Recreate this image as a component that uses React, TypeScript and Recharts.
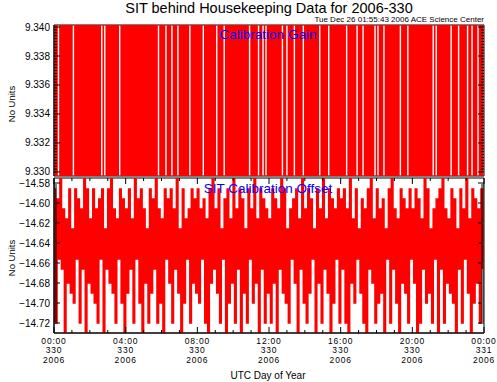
import React from "react"
import { LineChart, Line, XAxis, YAxis, ReferenceArea } from "recharts"

// SIT calibration gain, one sample every 5 minutes (1 = high state, 0 = low state)
const gainBlocks = [
  "101101010101001010101010101010100110101010100101",
  "010101010101010101010110101101001011010101001010",
  "101001010101001010010101010101010100101011011001",
  "010101010010010100101011010101010110101001010101",
  "010110101011010010101011001011010101010110101101",
  "010101010101011001010101011010110101001001011010",
]
const gainHigh = 9.3405
const gainLow = 9.3295

// SIT calibration offset, one sample every 5 minutes, coded by level
const offsetBlocks = [
  "BHCEALDIJFBGKMBECHDLAIBFJGBMDHCEBIKLBFAGDHJEBMCI",
  "DGBLJHAECMBIDFKHBGCLAHDMJIBECFBHDLAGKIBMJEDHBFCG",
  "BMDECHJIBFALDGBHKECIBMJFAHDLBICGKHBEDMAFJIBLCHDG",
  "JHBFCIDLAGBMKHDECFBIJLAMDHBGCEKIBFDHALJGBICMDEBH",
  "CLBHDIAFJMBEKGCHDIBLAFJHBMDGCIKEBHALDMJIBFCGDHBE",
  "DFBICHJLAMBGKHDECIBLAHDFJGBMCIKLBHDEAGJIBMCFDHBL",
]
const offsetLevels: Record<string, number> = {
  A: -14.574,
  B: -14.586,
  C: -14.596,
  D: -14.606,
  J: -14.616,
  K: -14.626,
  E: -14.656,
  L: -14.666,
  F: -14.68,
  G: -14.69,
  M: -14.7,
  H: -14.72,
  I: -14.732,
}

const sampleMinutes = 5

const gainTicks = [9.33, 9.332, 9.334, 9.336, 9.338, 9.34]
const offsetTicks = [-14.72, -14.7, -14.68, -14.66, -14.64, -14.62, -14.6, -14.58]

const majorTimes = [0, 240, 480, 720, 960, 1200, 1440]
const timeLabels = ["00:00", "04:00", "08:00", "12:00", "16:00", "20:00", "00:00"]
const dayLabels = ["330", "330", "330", "330", "330", "330", "331"]
const yearLabels = ["2006", "2006", "2006", "2006", "2006", "2006", "2006"]

const gainData = gainBlocks
  .join("")
  .split("")
  .map((c, i) => ({ t: i * sampleMinutes, gain: c === "1" ? gainHigh : gainLow }))

const offsetData = offsetBlocks
  .join("")
  .split("")
  .map((c, i) => ({ t: i * sampleMinutes, offset: offsetLevels[c] }))

const hourTicks: number[] = []
for (let h = 0; h <= 24; h++) hourTicks.push(h * 60)

function withMinors(majors: number[], n: number) {
  const out: number[] = []
  for (let i = 0; i < majors.length - 1; i++) {
    const step = (majors[i + 1] - majors[i]) / n
    for (let k = 0; k < n; k++) out.push(majors[i] + step * k)
  }
  out.push(majors[majors.length - 1])
  return out
}

const gainAllTicks = withMinors(gainTicks, 10)
const offsetAllTicks = withMinors(offsetTicks, 10)

const FONT = "'Liberation Sans', Arial, sans-serif"
const PLOT_W = 430
const TOP_H = 151
const BOT_H = 155
const gainDomain = [9.32972, 9.34014]
const offsetDomain = [-14.73, -14.575]

function ValueTick(props: any) {
  const { x, y, payload, majors, digits } = props
  const v = payload.value
  const isMajor = majors.some((m: number) => Math.abs(m - v) < 1e-7)
  const len = isMajor ? 6 : 3
  const label = v < 0 ? "\u2212" + Math.abs(v).toFixed(digits) : v.toFixed(digits)
  return (
    <g>
      <line x1={x} x2={x + len} y1={y} y2={y} stroke="#000" />
      <line x1={x + PLOT_W - len} x2={x + PLOT_W} y1={y} y2={y} stroke="#000" />
      {isMajor && (
        <text x={x - 4} y={y} dy="0.35em" textAnchor="end" fontSize={10} fill="#000" fontFamily={FONT}>
          {label}
        </text>
      )}
    </g>
  )
}

function TimeTick(props: any) {
  const { x, y, payload, plotH, showLabels } = props
  const k = majorTimes.indexOf(payload.value)
  const len = k >= 0 ? 6 : 3
  const rows = k >= 0 ? [timeLabels[k], dayLabels[k], yearLabels[k]] : []
  return (
    <g>
      <line x1={x} x2={x} y1={y} y2={y - len} stroke="#000" />
      <line x1={x} x2={x} y1={y - plotH} y2={y - plotH + len} stroke="#000" />
      {showLabels &&
        rows.map((s, r) => (
          <text
            key={r}
            x={x}
            y={y + 10.5 + r * 9.5}
            textAnchor="middle"
            fontSize={8.5}
            letterSpacing={0.8}
            fill="#000"
            fontFamily={FONT}
          >
            {s}
          </text>
        ))}
    </g>
  )
}

export default function App() {
  return (
    <div style={{ position: "absolute", left: 0, top: 0, width: 497, height: 382, background: "#fff", fontFamily: FONT }}>
      <div style={{ position: "absolute", left: 0, top: 0 }}>
        <LineChart width={497} height={177} data={gainData} margin={{ top: 25, right: 13, bottom: 1, left: 10 }}>
          <XAxis
            dataKey="t"
            type="number"
            domain={[0, 1440]}
            ticks={hourTicks}
            interval={0}
            height={0}
            tickSize={0}
            tickMargin={0}
            tickLine={false}
            axisLine={{ stroke: "#000" }}
            tick={(p: any) => <TimeTick {...p} plotH={TOP_H} showLabels={false} />}
          />
          <YAxis
            type="number"
            domain={gainDomain}
            allowDataOverflow
            ticks={gainAllTicks}
            interval={0}
            width={44}
            tickSize={0}
            tickMargin={0}
            tickLine={false}
            axisLine={{ stroke: "#000" }}
            tick={(p: any) => <ValueTick {...p} majors={gainTicks} digits={3} />}
          />
          <Line
            dataKey="gain"
            type="stepAfter"
            stroke="#ff0000"
            strokeWidth={1.6}
            dot={false}
            isAnimationActive={false}
          />
          <ReferenceArea x1={0} x2={1440} y1={gainDomain[0]} y2={gainDomain[1]} fill="none" stroke="#000" strokeOpacity={1} />
        </LineChart>
      </div>
      <div style={{ position: "absolute", left: 0, top: 177 }}>
        <LineChart width={497} height={205} data={offsetData} margin={{ top: 1, right: 13, bottom: 0, left: 10 }}>
          <XAxis
            dataKey="t"
            type="number"
            domain={[0, 1440]}
            ticks={hourTicks}
            interval={0}
            height={49}
            tickSize={0}
            tickMargin={0}
            tickLine={false}
            axisLine={{ stroke: "#000" }}
            tick={(p: any) => <TimeTick {...p} plotH={BOT_H} showLabels />}
          />
          <YAxis
            type="number"
            domain={offsetDomain}
            allowDataOverflow
            ticks={offsetAllTicks}
            interval={0}
            width={44}
            tickSize={0}
            tickMargin={0}
            tickLine={false}
            axisLine={{ stroke: "#000" }}
            tick={(p: any) => <ValueTick {...p} majors={offsetTicks} digits={2} />}
          />
          <Line
            dataKey="offset"
            type="stepAfter"
            stroke="#ff0000"
            strokeWidth={1.6}
            dot={false}
            isAnimationActive={false}
          />
          <ReferenceArea x1={0} x2={1440} y1={offsetDomain[0]} y2={offsetDomain[1]} fill="none" stroke="#000" strokeOpacity={1} />
        </LineChart>
      </div>
      <svg width={497} height={382} style={{ position: "absolute", left: 0, top: 0, pointerEvents: "none" }}>
        <text x={269} y={13} textAnchor="middle" fontSize={14.5} fontFamily={FONT} fill="#000">
          SIT behind Housekeeping Data for 2006-330
        </text>
        <text x={484} y={22} textAnchor="end" fontSize={8} fontFamily={FONT} fill="#000">
          Tue Dec 26 01:55:43 2006 ACE Science Center
        </text>
        <text x={268} y={39} textAnchor="middle" fontSize={13.5} fontFamily={FONT} fill="#0000ff">
          Calibration Gain
        </text>
        <text x={268} y={193} textAnchor="middle" fontSize={13.5} fontFamily={FONT} fill="#0000ff">
          SIT Calibration Offset
        </text>
        <text x={15} y={104} transform="rotate(-90 15 104)" textAnchor="middle" fontSize={9.5} fontFamily={FONT} fill="#000">
          No Units
        </text>
        <text x={15} y={258} transform="rotate(-90 15 258)" textAnchor="middle" fontSize={9.5} fontFamily={FONT} fill="#000">
          No Units
        </text>
        <text x={268} y={379} textAnchor="middle" fontSize={10} fontFamily={FONT} fill="#000">
          UTC Day of Year
        </text>
      </svg>
    </div>
  )
}
